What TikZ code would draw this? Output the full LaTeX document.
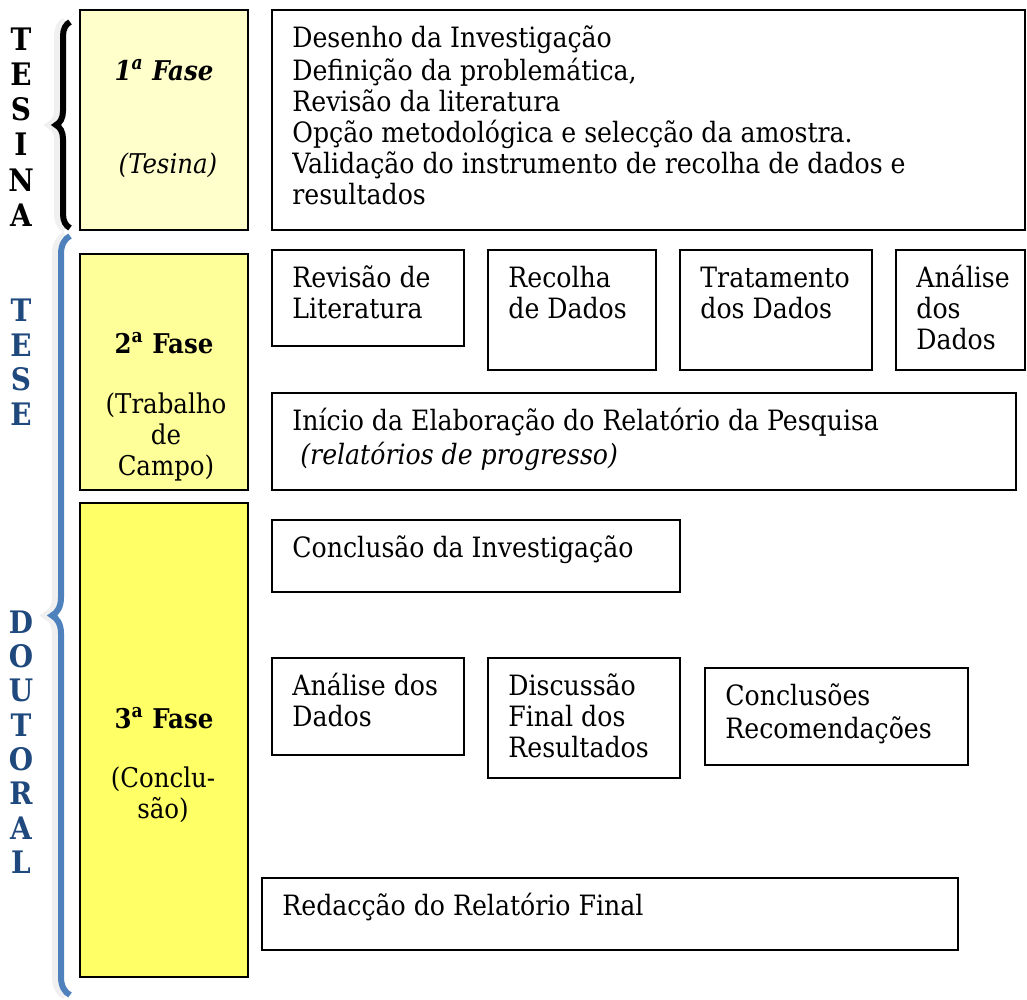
\documentclass[tikz,border=0pt]{standalone}
\usepackage{fontspec}
\setmainfont{DejaVu Serif Condensed}
\usepackage{xcolor}
\usetikzlibrary{positioning,fit,decorations.pathreplacing}

\definecolor{fase1}{HTML}{FFFFCC}
\definecolor{fase2}{HTML}{FFFF99}
\definecolor{fase3}{HTML}{FFFF66}
\definecolor{azul}{HTML}{4F81BD}
\definecolor{azulescuro}{HTML}{1F497D}

\begin{document}
\begin{tikzpicture}[
		x=0.5pt, y=-0.5pt,
		caixa/.style={rectangle, draw, line width=1pt, inner sep=0pt},
		texto/.style={anchor=north west, inner sep=0pt, align=left, font=\fontsize{14}{15.5}\selectfont},
		rotulo/.style={inner sep=0pt, align=center, font=\fontsize{13.6}{15.5}\selectfont},
		letra/.style={inner sep=0pt, font=\fontsize{15.5}{15.5}\selectfont\bfseries},
		chaveta/.style={decorate, decoration={brace, amplitude=#1}, line width=2.5pt},
		chaveta/.default=7pt
		]
		\useasboundingbox (0,0) rectangle (1027,1000);
		
		% Chavetas
		\draw[chaveta=7pt, line width=5pt, black!6, xshift=-2pt] (70,228) -- (70,22);
		\draw[chaveta=7pt, black, line width=3pt] (70,228) -- (70,22);
		\draw[chaveta=9pt, line width=5pt, black!6, xshift=-2pt] (70,995) -- (70,236);
		\draw[chaveta=9pt, azul, line width=3pt] (70,995) -- (70,236);
		
		% Letras
		\foreach \l [count=\i] in {T,E,S,I,N,A}
		\node[letra] (tesina\i) at (21,{39+35.2*(\i-1)}) {\l};
		\foreach \l [count=\i] in {T,E,S,E}
		\node[letra, azulescuro] (tese\i) at (21,{310+34.7*(\i-1)}) {\l};
		\foreach \l [count=\i] in {D,O,U,T,O,R,A,L}
		\node[letra, azulescuro] (doutoral\i) at (21,{622+34.3*(\i-1)}) {\l};
		
		% Fases
		\node[caixa, fill=fase1, fit={(80,10) (248,230)}] (fase1) {};
		\node[rotulo] (fase1a) at (164,70) {\textbf{\textit{1\textsuperscript{a} Fase}}};
		\node[rotulo] (fase1b) at (168,165) {\textit{(Tesina)}};
		
		\node[caixa, fill=fase2, fit={(80,254) (248,490)}] (fase2) {};
		\node[rotulo] (fase2a) at (164,343) {\textbf{2\textsuperscript{a} Fase}};
		\node[rotulo] (fase2b) at (166,437) {(Trabalho\\de\\Campo)};
		
		\node[caixa, fill=fase3, fit={(80,503) (248,977)}] (fase3) {};
		\node[rotulo] (fase3a) at (164,718) {\textbf{3\textsuperscript{a} Fase}};
		\node[rotulo] (fase3b) at (163,795) {(Conclu-\\são)};
		
		% 1a fase
		\node[caixa, fit={(272,10) (1025,230)}] (desenho) {};
		\node[texto] (desenhoT) at ([shift={(21,16)}]desenho.north west) {\strut Desenho da Investigação\\Definição da problemática,\\Revisão da literatura\\Opção metodológica e selecção da amostra.\\Validação do instrumento de recolha de dados e\\resultados};
		
		% 2a fase
		\node[caixa, fit={(272,250) (464,346)}] (revisao) {};
		\node[texto] (revisaoT) at ([shift={(21,16)}]revisao.north west) {\strut Revisão de\\Literatura};
		\node[caixa, fit={(488,250) (656,370)}] (recolha) {};
		\node[texto] (recolhaT) at ([shift={(21,16)}]recolha.north west) {\strut Recolha\\de Dados};
		\node[caixa, fit={(680,250) (872,370)}] (tratamento) {};
		\node[texto] (tratamentoT) at ([shift={(21,16)}]tratamento.north west) {\strut Tratamento\\dos Dados};
		\node[caixa, fit={(896,250) (1025,370)}] (analise) {};
		\node[texto] (analiseT) at ([shift={(21,16)}]analise.north west) {\strut Análise\\dos\\Dados};
		\node[caixa, fit={(272,393) (1016,490)}] (inicio) {};
		\node[texto] (inicioT) at ([shift={(21,16)}]inicio.north west) {\strut Início da Elaboração do Relatório da Pesquisa\\\hspace{4pt}\textit{(relatórios de progresso)}};
		
		% 3a fase
		\node[caixa, fit={(272,520) (680,592)}] (conclusao) {};
		\node[texto] (conclusaoT) at ([shift={(21,16)}]conclusao.north west) {\strut Conclusão da Investigação};
		\node[caixa, fit={(272,658) (464,755)}] (analisedados) {};
		\node[texto] (analisedadosT) at ([shift={(21,16)}]analisedados.north west) {\strut Análise dos\\Dados};
		\node[caixa, fit={(488,658) (680,778)}] (discussao) {};
		\node[texto] (discussaoT) at ([shift={(21,16)}]discussao.north west) {\strut Discussão\\Final dos\\Resultados};
		\node[caixa, fit={(705,668) (968,765)}] (conclusoes) {};
		\node[texto] (conclusoesT) at ([shift={(21,16)}]conclusoes.north west) {\strut Conclusões\\Recomendações};
		\node[caixa, fit={(262,878) (958,950)}] (redaccao) {};
		\node[texto] (redaccaoT) at ([shift={(21,16)}]redaccao.north west) {\strut Redacção do Relatório Final};
\end{tikzpicture}
\end{document}
